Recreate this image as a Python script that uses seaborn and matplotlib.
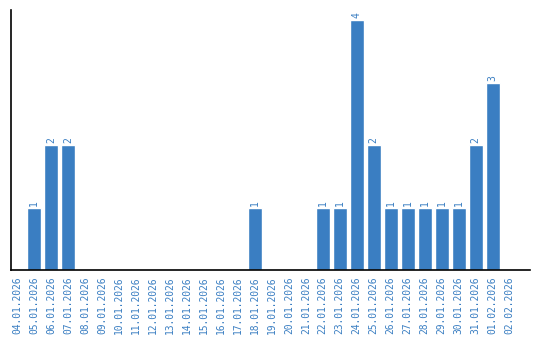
import matplotlib
matplotlib.use("Agg")
import matplotlib.pyplot as plt
import seaborn as sns
import pandas as pd

dates = ["04.01.2026", "05.01.2026", "06.01.2026", "07.01.2026", "08.01.2026",
         "09.01.2026", "10.01.2026", "11.01.2026", "12.01.2026", "13.01.2026",
         "14.01.2026", "15.01.2026", "16.01.2026", "17.01.2026", "18.01.2026",
         "19.01.2026", "20.01.2026", "21.01.2026", "22.01.2026", "23.01.2026",
         "24.01.2026", "25.01.2026", "26.01.2026", "27.01.2026", "28.01.2026",
         "29.01.2026", "30.01.2026", "31.01.2026", "01.02.2026", "02.02.2026"]
counts = [0, 1, 2, 2, 0, 0, 0, 0, 0, 0,
          0, 0, 0, 0, 1, 0, 0, 0, 1, 1,
          4, 2, 1, 1, 1, 1, 1, 2, 3, 0]

BLUE = "#3a7ec2"
sns.set_style("white")
plt.rcParams['font.family'] = ['DejaVu Sans Mono', 'DejaVu Sans']

df = pd.DataFrame({"date": dates, "count": counts})
fig = plt.figure(figsize=(5.4, 3.4), dpi=100)
ax = fig.add_axes([11/540, 70/340, 519/540, 260/340])
sns.barplot(data=df, x="date", y="count", color=BLUE, saturation=1,
            width=0.82, ax=ax, order=dates)
for p, v in zip(ax.patches, counts):
    if v > 0:
        ax.text(p.get_x() + p.get_width() / 2, v + 0.03, str(v), rotation=90,
                ha="center", va="bottom", color=BLUE, fontsize=7)
ax.set_xlim(-0.35, 30.2)
ax.set_ylim(0, 4.16)
ax.set_xlabel("")
ax.set_ylabel("")
ax.set_yticks([])
ax.tick_params(axis="x", length=0, pad=5, labelsize=6.9, labelcolor=BLUE)
for lbl in ax.get_xticklabels():
    lbl.set_rotation(90)
    lbl.set_va("top")
    lbl.set_ha("center")
for s in ["top", "right"]:
    ax.spines[s].set_visible(False)
for s in ["left", "bottom"]:
    ax.spines[s].set_color("black")
    ax.spines[s].set_linewidth(1.2)
fig.savefig("out.png", dpi=100)
